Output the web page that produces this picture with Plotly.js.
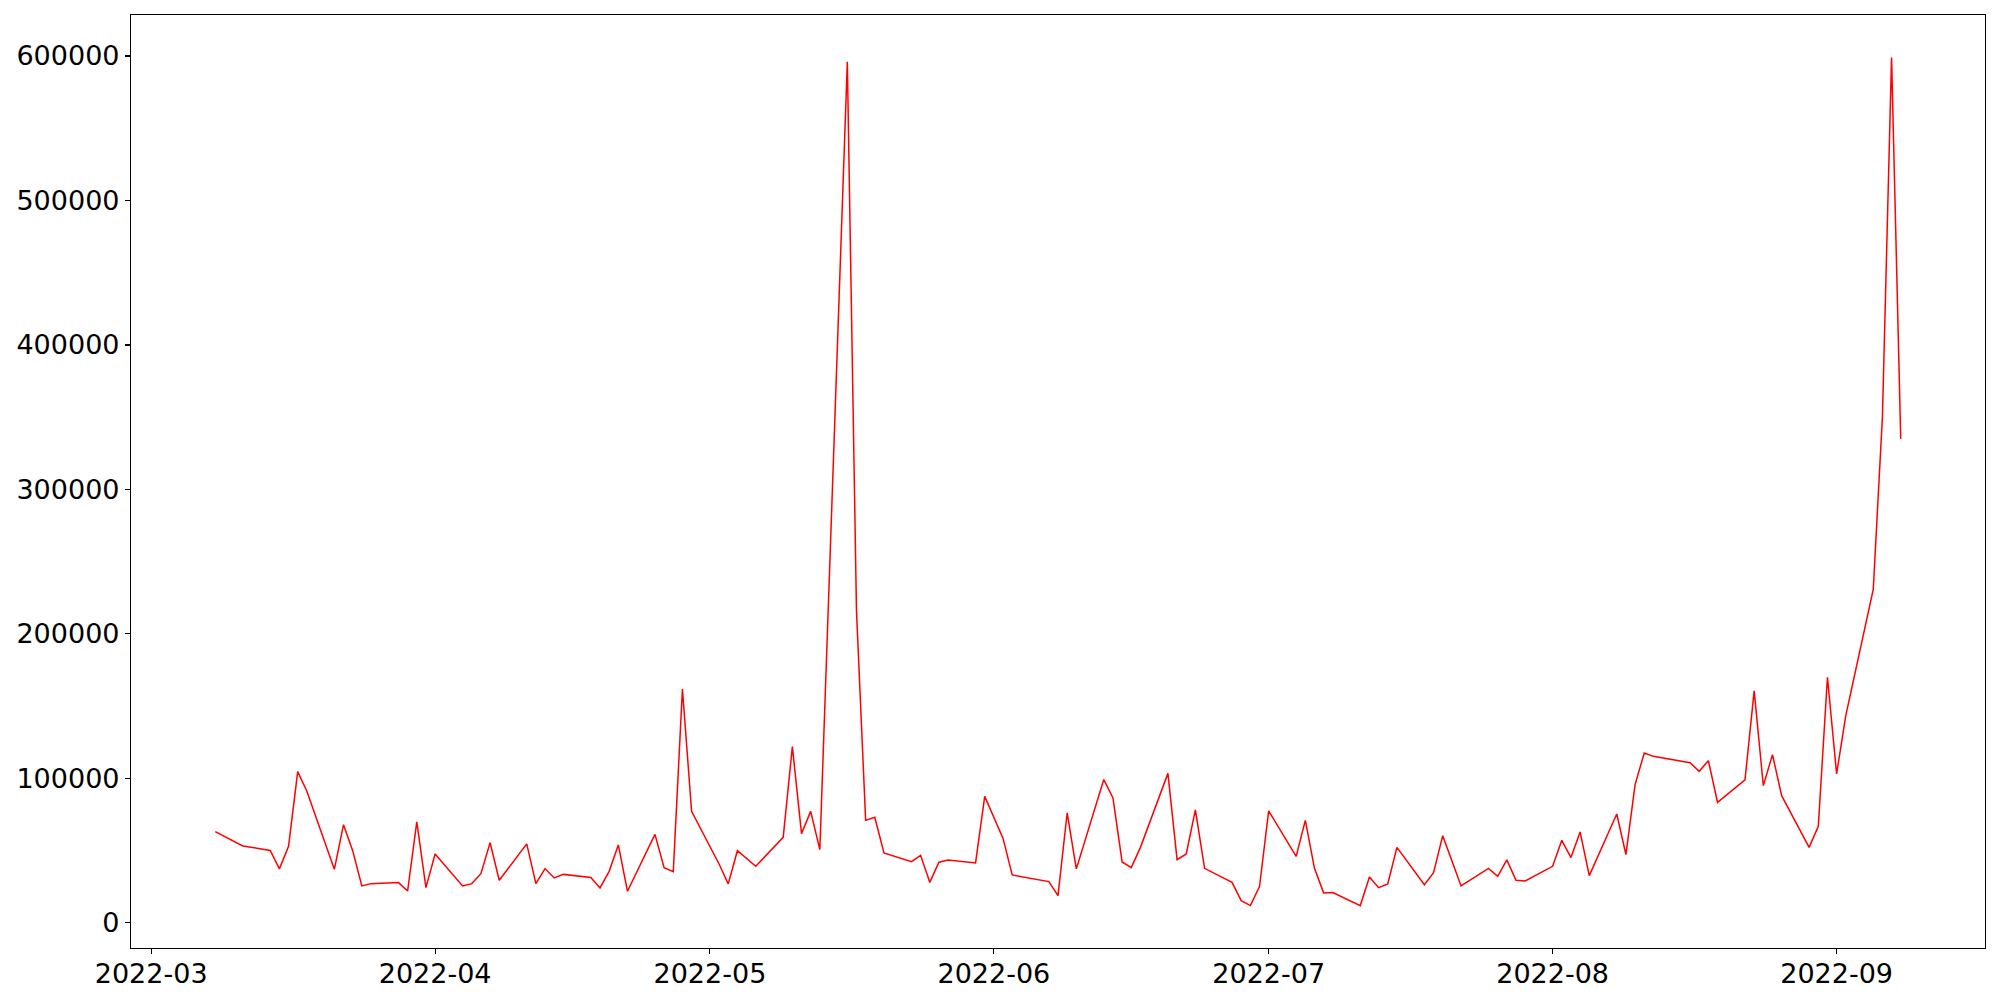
<!DOCTYPE html>
<html>
<head>
<meta charset="utf-8">
<script src="https://cdn.plot.ly/plotly-3.0.1.min.js"></script>
<style>html,body{margin:0;padding:0;background:#fff;}#chart{width:2000px;height:1000px;}</style>
</head>
<body>
<div id="chart"></div>
<script>
const dates = [
  '2022-03-08','2022-03-10','2022-03-11','2022-03-14','2022-03-15','2022-03-16','2022-03-17','2022-03-18',
  '2022-03-21','2022-03-22','2022-03-23','2022-03-24','2022-03-25','2022-03-28','2022-03-29','2022-03-30','2022-03-31',
  '2022-04-01','2022-04-04','2022-04-05','2022-04-06','2022-04-07','2022-04-08','2022-04-11','2022-04-12','2022-04-13',
  '2022-04-14','2022-04-15','2022-04-18','2022-04-19','2022-04-20','2022-04-21','2022-04-22','2022-04-25','2022-04-26',
  '2022-04-27','2022-04-28','2022-04-29',
  '2022-05-02','2022-05-03','2022-05-04','2022-05-06','2022-05-09','2022-05-10','2022-05-11','2022-05-12','2022-05-13',
  '2022-05-16','2022-05-17','2022-05-18','2022-05-19','2022-05-20','2022-05-23','2022-05-24','2022-05-25','2022-05-26',
  '2022-05-27','2022-05-30','2022-05-31',
  '2022-06-02','2022-06-03','2022-06-07','2022-06-08','2022-06-09','2022-06-10','2022-06-13','2022-06-14','2022-06-15',
  '2022-06-16','2022-06-17','2022-06-20','2022-06-21','2022-06-22','2022-06-23','2022-06-24','2022-06-27','2022-06-28',
  '2022-06-29','2022-06-30',
  '2022-07-01','2022-07-04','2022-07-05','2022-07-06','2022-07-07','2022-07-08','2022-07-11','2022-07-12','2022-07-13',
  '2022-07-14','2022-07-15','2022-07-18','2022-07-19','2022-07-20','2022-07-21','2022-07-22','2022-07-25','2022-07-26',
  '2022-07-27','2022-07-28','2022-07-29',
  '2022-08-01','2022-08-02','2022-08-03','2022-08-04','2022-08-05','2022-08-08','2022-08-09','2022-08-10','2022-08-11',
  '2022-08-12','2022-08-16','2022-08-17','2022-08-18','2022-08-19','2022-08-22','2022-08-23','2022-08-24','2022-08-25',
  '2022-08-26','2022-08-29','2022-08-30','2022-08-31',
  '2022-09-01','2022-09-02','2022-09-05','2022-09-06','2022-09-07','2022-09-08'
];
const values = [
  63200,56500,53300,50200,37400,53000,104700,91100,
  37100,68000,50000,25600,27200,27900,22100,69900,24400,
  47700,25600,27200,34100,55600,29500,54700,27200,37600,
  31100,33600,31400,24200,35700,54000,21900,61300,38300,
  35500,161900,77200,
  40800,27000,50000,39200,59200,122000,61800,77200,50700,
  596000,216000,71000,73100,48400,42400,46800,28100,42000,
  43600,41500,87600,
  58500,33200,28600,18900,76100,37400,99200,86500,42200,
  38300,52300,103500,43800,47700,78200,37800,28100,15400,
  12000,25100,
  77500,46100,71000,37800,20800,21000,12000,31800,24400,
  27000,52300,26500,34700,60400,43000,25600,37800,32300,
  43600,29500,29000,
  39200,57200,45200,63000,32700,75400,47300,95700,117600,
  115300,110900,104900,112300,83500,99000,160600,95000,116500,
  88100,52300,66900,170000,
  103100,143500,230800,350000,599000,335000
];
const yTickVals = [0,100000,200000,300000,400000,500000,600000];
const yTickText = ['0','100000','200000','300000','400000','500000','600000'];

const trace = {
  x: dates, y: values, type: 'scatter', mode: 'lines',
  line: {color: '#ff0000', width: 1.5},
  hoverinfo: 'x+y'
};

const font = {family: 'DejaVu Sans, sans-serif', size: 27, color: '#000'};
const layout = {
  width: 2000, height: 1000,
  paper_bgcolor: '#fff', plot_bgcolor: '#fff',
  margin: {l: 131, r: 15, t: 15, b: 52, pad: 0},
  showlegend: false,
  font: font,
  xaxis: {
    type: 'date',
    range: ['2022-02-26 19:12', '2022-09-17 04:48'],
    tick0: '2022-03-01', dtick: 'M1', tickformat: '%Y-%m',
    showgrid: false, zeroline: false,
    showline: true, mirror: true, linecolor: '#000', linewidth: 1.1,
    ticks: 'outside', ticklen: 5, tickwidth: 1.1, tickcolor: '#000',
    ticklabelstandoff: -4,
    tickfont: font
  },
  yaxis: {
    range: [-17350, 628350],
    tickmode: 'array', tickvals: yTickVals, ticktext: yTickText,
    showgrid: false, zeroline: false,
    showline: true, mirror: true, linecolor: '#000', linewidth: 1.1,
    ticks: 'outside', ticklen: 5, tickwidth: 1.1, tickcolor: '#000',
    tickfont: font
  }
};
Plotly.newPlot('chart', [trace], layout, {displayModeBar: false, staticPlot: true});
</script>
</body>
</html>
